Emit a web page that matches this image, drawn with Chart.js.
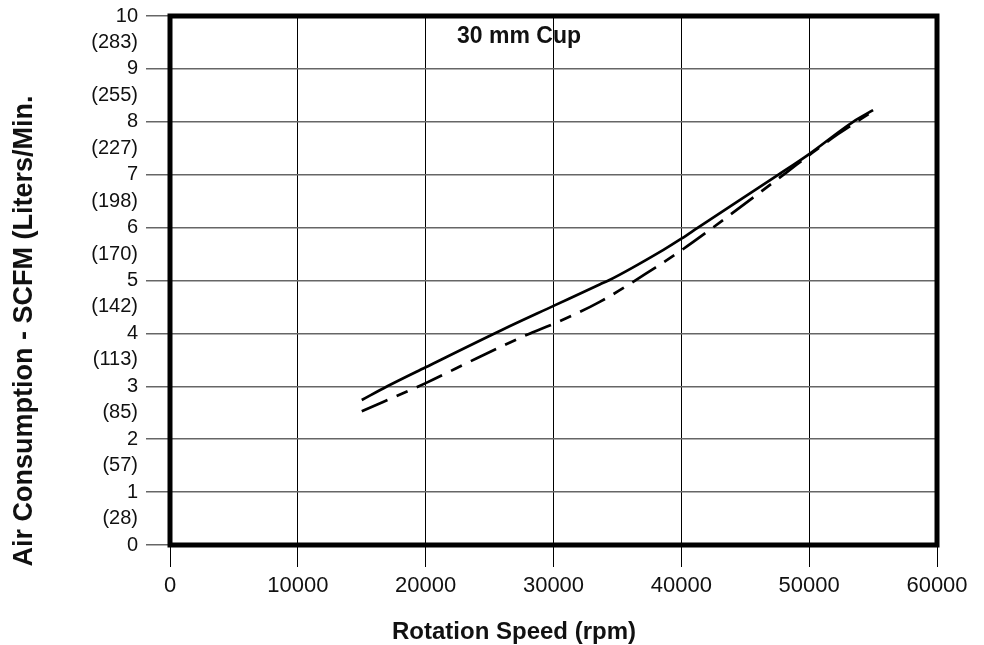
<!DOCTYPE html>
<html>
<head>
<meta charset="utf-8">
<script src="https://cdn.jsdelivr.net/npm/chart.js@4.4.1/dist/chart.umd.min.js"></script>
<style>
    html, body { margin: 0; padding: 0; background: #fff; }
    #wrap { width: 984px; height: 645px; }
</style>
</head>
<body>
<div id="wrap"><canvas id="myChart"></canvas></div>
<script>
// values
var rpmTicks = [0, 10000, 20000, 30000, 40000, 50000, 60000];
var literLabels = [28, 57, 85, 113, 142, 170, 198, 227, 255, 283];

var solidRpm = [15000, 17000, 20000, 26000, 30000, 33650, 34300, 38600, 40000, 41300, 47600, 50000, 53440, 55000];
var solidScfm = [2.74, 3.0, 3.36, 4.07, 4.52, 4.93, 5.0, 5.58, 5.79, 6.0, 7.0, 7.39, 8.0, 8.22];

var dashRpm = [15000, 20000, 24000, 28170, 30000, 33650, 38000, 40000, 42470, 48260, 50000, 52270, 55000];
var dashScfm = [2.53, 3.06, 3.53, 4.0, 4.18, 4.6, 5.25, 5.57, 6.0, 7.05, 7.37, 7.77, 8.2];

var chartTitle = '30 mm Cup';
var xTitle = 'Rotation Speed (rpm)';
var yTitle = 'Air Consumption - SCFM (Liters/Min.';

var FONT = "'Liberation Sans', Arial, Helvetica, sans-serif";

function toPoints(xs, ys) {
    var pts = [];
    for (var i = 0; i < xs.length; i++) {
        pts.push({x: xs[i], y: ys[i]});
    }
    return pts;
}

// frame, chart title and the two axis titles
var decorations = {
    id: 'decorations',
    afterDatasetsDraw: function (chart) {
        var ctx = chart.ctx;
        var a = chart.chartArea;
        ctx.save();
        ctx.strokeStyle = '#000';
        ctx.lineWidth = 5;
        ctx.strokeRect(a.left, a.top, a.right - a.left, a.bottom - a.top);

        ctx.fillStyle = '#111';
        ctx.textAlign = 'center';
        ctx.textBaseline = 'middle';
        ctx.font = 'bold 23px ' + FONT;
        ctx.fillText(chartTitle, 519, 37);

        ctx.font = 'bold 24px ' + FONT;
        ctx.fillText(xTitle, 514, 632);

        ctx.translate(25, 331);
        ctx.rotate(-Math.PI / 2);
        ctx.font = 'bold 27px ' + FONT;
        ctx.fillText(yTitle, 0, 0);
        ctx.restore();
    }
};

var ctx = document.getElementById('myChart');
var myChart = new Chart(ctx, {
    type: 'line',
    data: {
        datasets: [{
            label: 'solid',
            data: toPoints(solidRpm, solidScfm),
            borderColor: '#000',
            borderWidth: 2.7,
            pointRadius: 0,
            cubicInterpolationMode: 'monotone',
            fill: false
        }, {
            label: 'dashed',
            data: toPoints(dashRpm, dashScfm),
            borderColor: '#000',
            borderWidth: 2.7,
            borderDash: [28, 10, 12, 10],
            pointRadius: 0,
            cubicInterpolationMode: 'monotone',
            fill: false
        }]
    },
    options: {
        responsive: true,
        maintainAspectRatio: false,
        animation: false,
        events: [],
        layout: {padding: {top: 16, right: 47, left: 0, bottom: 0}},
        plugins: {
            legend: {display: false},
            tooltip: {enabled: false}
        },
        scales: {
            x: {
                type: 'linear',
                min: 0,
                max: 60000,
                afterBuildTicks: function (scale) {
                    scale.ticks = rpmTicks.map(function (v) { return {value: v}; });
                },
                afterFit: function (scale) { scale.height = 100; },
                border: {display: false},
                grid: {color: '#000', lineWidth: 1, tickLength: 22},
                ticks: {
                    color: '#111',
                    font: {family: FONT, size: 22},
                    padding: 6,
                    maxRotation: 0,
                    callback: function (v) { return String(v); }
                }
            },
            y: {
                min: 0,
                max: 10,
                afterFit: function (scale) {
                    scale.width = 170;
                    scale.paddingTop = 0;
                    scale.paddingBottom = 0;
                },
                border: {display: false},
                grid: {
                    tickLength: 24,
                    lineWidth: 1.5,
                    color: function (c) {
                        return Number.isInteger(c.tick.value) ? '#666' : 'rgba(0,0,0,0)';
                    }
                },
                ticks: {
                    stepSize: 0.5,
                    color: '#111',
                    font: {family: FONT, size: 20},
                    padding: 8,
                    autoSkip: false,
                    callback: function (v) {
                        if (Number.isInteger(v)) return String(v);
                        return '(' + literLabels[Math.floor(v)] + ')';
                    }
                }
            }
        }
    },
    plugins: [decorations]
});
</script>
</body>
</html>
